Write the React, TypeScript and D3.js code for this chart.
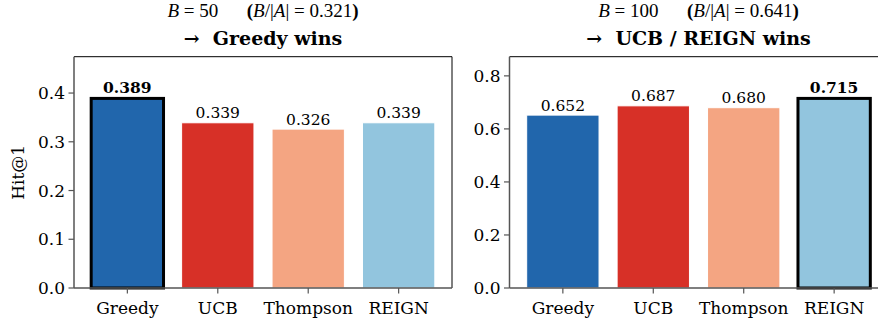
import React from "react";
import * as d3 from "d3";

const methods = ["Greedy", "UCB", "Thompson", "REIGN"];
const colors = ["#2166ac", "#d73027", "#f4a582", "#92c5de"];
const hitB50 = [0.389, 0.339, 0.326, 0.339];
const hitB100 = [0.652, 0.687, 0.68, 0.715];
const budgets = [50, 100];
const ratios = ["0.321", "0.641"];
const verdicts = ["Greedy wins", "UCB / REIGN wins"];
const ticksB50 = [0, 0.1, 0.2, 0.3, 0.4];
const ticksB100 = [0, 0.2, 0.4, 0.6, 0.8];

const W = 878;
const H = 320;
const top = 56.7;
const bottom = 288;
const serif = "'DejaVu Serif', serif";
const mathFont = "'Liberation Serif', 'Times New Roman', serif";

function Panel({ x0, x1, values, ticks, budget, ratio, verdict, showYLabel }) {
  const best = d3.maxIndex(values);
  const x = d3.scaleLinear().domain([-0.59, 3.59]).range([x0, x1]);
  const y = d3.scaleLinear().domain([0, d3.max(values) * 1.22]).range([bottom, top]);
  const bw = x(0.4) - x(0);
  const cx = (x0 + x1) / 2;
  return (
    <g>
      {/* title */}
      <text x={cx} y={16.5} textAnchor="middle" fontFamily={mathFont} fontSize={19} style={{ whiteSpace: "pre" }}>
        <tspan fontStyle="italic">B</tspan>
        <tspan> = {budget}</tspan>
        <tspan>{"      "}</tspan>
        <tspan fontWeight="bold">(</tspan>
        <tspan fontStyle="italic">B</tspan>
        <tspan>/|</tspan>
        <tspan fontStyle="italic">A</tspan>
        <tspan>| = {ratio}</tspan>
        <tspan fontWeight="bold">)</tspan>
      </text>
      <text x={cx} y={45} textAnchor="middle" fontFamily={serif} fontSize={19} fontWeight="bold" style={{ whiteSpace: "pre" }}>
        {"\u2192  " + verdict}
      </text>

      {/* bars */}
      {values.map((v, i) => (
        <g key={i}>
          <rect
            x={x(i) - bw}
            y={y(v)}
            width={bw * 2}
            height={bottom - y(v)}
            fill={colors[i]}
            stroke={i === best ? "#000" : "#fff"}
            strokeWidth={i === best ? 3 : 1}
          />
          <text
            x={x(i)}
            y={y(v) - (i === best ? 5.5 : 4.5)}
            textAnchor="middle"
            fontFamily={serif}
            fontSize={15.5}
            fontWeight={i === best ? "bold" : "normal"}
          >
            {v.toFixed(3)}
          </text>
        </g>
      ))}

      {/* spines */}
      <line x1={x0} x2={x1} y1={top} y2={top} stroke="#000" strokeWidth={1} />
      <line x1={x1} x2={x1} y1={top} y2={bottom} stroke="#000" strokeWidth={1} />
      <line x1={x0} x2={x0} y1={top} y2={bottom} stroke="#555" strokeWidth={1.5} />
      <line x1={x0} x2={x1} y1={bottom} y2={bottom} stroke="#555" strokeWidth={1.5} />

      {/* y ticks */}
      {ticks.map((t) => (
        <g key={t}>
          <line x1={x0 - 5.5} x2={x0} y1={y(t)} y2={y(t)} stroke="#555" strokeWidth={1.2} />
          <text x={x0 - 9} y={y(t)} dy="0.36em" textAnchor="end" fontFamily={serif} fontSize={17}>
            {t.toFixed(1)}
          </text>
        </g>
      ))}

      {/* x ticks */}
      {methods.map((m, i) => (
        <g key={m}>
          <line x1={x(i)} x2={x(i)} y1={bottom} y2={bottom + 5.5} stroke="#555" strokeWidth={1.2} />
          <text x={x(i)} y={314} textAnchor="middle" fontFamily={serif} fontSize={17}>
            {m}
          </text>
        </g>
      ))}

      {showYLabel && (
        <text
          transform={`translate(${x0 - 50},${(top + bottom) / 2}) rotate(-90)`}
          textAnchor="middle"
          fontFamily={serif}
          fontSize={17}
        >
          Hit@1
        </text>
      )}
    </g>
  );
}

export default function App() {
  return (
    <svg width={W} height={H} style={{ position: "absolute", left: 0, top: 0, background: "#fff" }}>
      <rect width={W} height={H} fill="#fff" />
      <Panel x0={74} x1={452} values={hitB50} ticks={ticksB50} budget={budgets[0]} ratio={ratios[0]} verdict={verdicts[0]} showYLabel />
      <Panel x0={509.5} x1={887.5} values={hitB100} ticks={ticksB100} budget={budgets[1]} ratio={ratios[1]} verdict={verdicts[1]} showYLabel={false} />
    </svg>
  );
}
